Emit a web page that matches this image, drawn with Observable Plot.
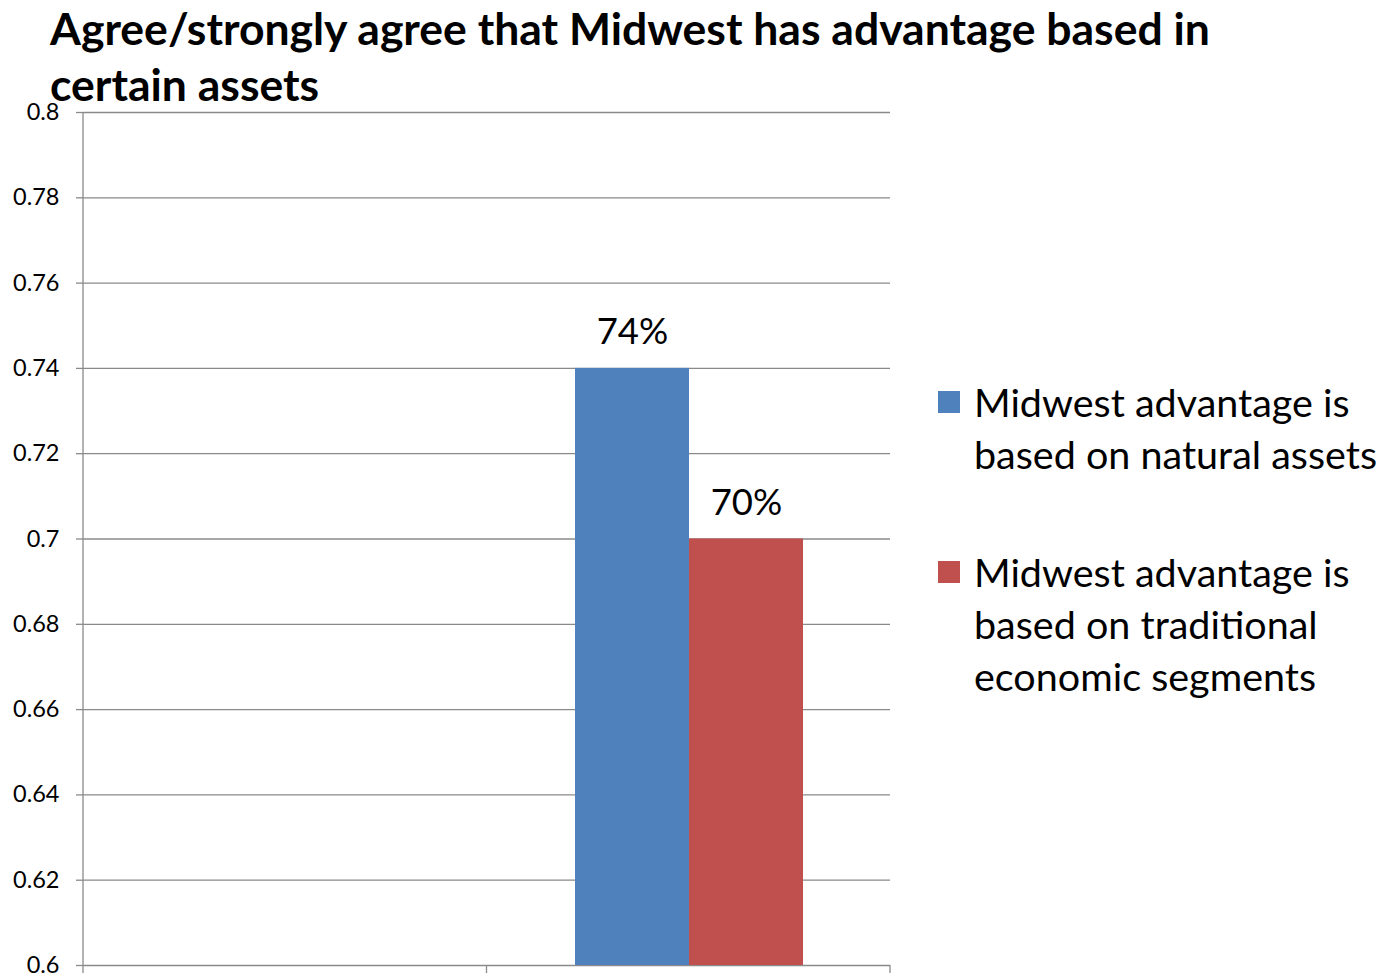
<!DOCTYPE html>
<html><head><meta charset="utf-8">
<script src="https://cdn.jsdelivr.net/npm/d3@7"></script>
<script src="https://cdn.jsdelivr.net/npm/@observablehq/plot@0.6"></script>
<style>
body{margin:0;background:#fff;font-family:Lato,"Open Sans",sans-serif;}
#wrap{position:relative;width:1390px;height:975px;overflow:hidden;}
#chart{position:absolute;left:0;top:0;}
#title{position:absolute;left:50px;top:0;font-weight:bold;font-size:44.5px;line-height:56px;color:#000;white-space:nowrap;}
.item{position:absolute;left:938px;font-size:39.5px;line-height:52px;color:#000;}
.item .sw{position:absolute;left:0;top:15px;width:22px;height:22px;}
.item .tx{position:absolute;left:36px;top:0;white-space:nowrap;}
</style></head>
<body><div id="wrap"><div id="chart"></div><div id="title"></div><div id="legend"></div></div>
<script>
const titleLines = ["Agree/strongly agree that Midwest has advantage based in", "certain assets"];
const categories = ["Group 1", "Group 2"];
const series = ["Midwest advantage is based on natural assets", "Midwest advantage is based on traditional economic segments"];
const legendLines = [["Midwest advantage is", "based on natural assets"], ["Midwest advantage is", "based on traditional", "economic segments"]];
const group1Values = [null, null];
const group2Values = [0.74, 0.70];
const group1Labels = [null, null];
const group2Labels = ["74%", "70%"];
const colors = ["#4F81BD", "#C0504D"];
const yDomain = [0.6, 0.8];
const yTicks = [0.6, 0.62, 0.64, 0.66, 0.68, 0.7, 0.72, 0.74, 0.76, 0.78, 0.8];

const rows = [];
series.forEach((s, i) => rows.push({category: categories[0], series: s, value: group1Values[i], label: group1Labels[i]}));
series.forEach((s, i) => rows.push({category: categories[1], series: s, value: group2Values[i], label: group2Labels[i]}));
const grid = "#8a8a8a";

const plot = Plot.plot({
  width: 1390, height: 975,
  marginLeft: 83, marginRight: 500, marginTop: 112, marginBottom: 10,
  style: {fontFamily: "Lato, 'Open Sans', sans-serif", background: "transparent"},
  fx: {domain: categories, paddingInner: 0, paddingOuter: 0, axis: null},
  x: {domain: series, paddingInner: 0, paddingOuter: 0.757, axis: null},
  y: {domain: yDomain},
  color: {domain: series, range: colors},
  marks: [
    Plot.ruleY(yTicks, {stroke: grid, strokeWidth: 1.3}),
    Plot.barY(rows, {fx: "category", x: "series", y1: yDomain[0], y2: "value", fill: "series"}),
    Plot.text(rows, {fx: "category", x: "series", y: "value", text: "label", dy: -36, fontSize: 36.5, fill: "#000"}),
    Plot.axisY({ticks: yTicks, tickSize: 8, tickPadding: 17, fontSize: 23.5, tickFormat: d => String(d), stroke: grid, fill: "#000", strokeWidth: 1.3, label: null})
  ]
});
document.getElementById("chart").appendChild(plot);

// category axis line and boundary tick marks, from the plot's own scales
const fxS = plot.scale("fx"), yS = plot.scale("y");
const band = d3.scaleBand().domain(fxS.domain).range(fxS.range).paddingInner(0).paddingOuter(0);
const yScale = d3.scaleLinear().domain(yS.domain).range(yS.range);
const svg = d3.select(plot);
const bounds = categories.map(c => band(c)).concat([band(categories[categories.length - 1]) + band.bandwidth()]);
const g = svg.append("g").attr("stroke", grid).attr("stroke-width", 1.3);
g.append("line").attr("x1", bounds[0]).attr("x2", bounds[0]).attr("y1", yScale(yDomain[1])).attr("y2", yScale(yDomain[0]));
bounds.forEach(b => g.append("line").attr("x1", b).attr("x2", b).attr("y1", yScale(yDomain[0])).attr("y2", yScale(yDomain[0]) + 8));

document.getElementById("title").innerHTML = titleLines.join("<br>");
const legendTops = [376, 546];
const legend = document.getElementById("legend");
legendLines.forEach((lines, i) => {
  const item = document.createElement("div");
  item.className = "item";
  item.style.top = legendTops[i] + "px";
  item.innerHTML = `<div class="sw" style="background:${colors[i]}"></div><div class="tx">${lines.join("<br>")}</div>`;
  legend.appendChild(item);
});
</script>
</body></html>
